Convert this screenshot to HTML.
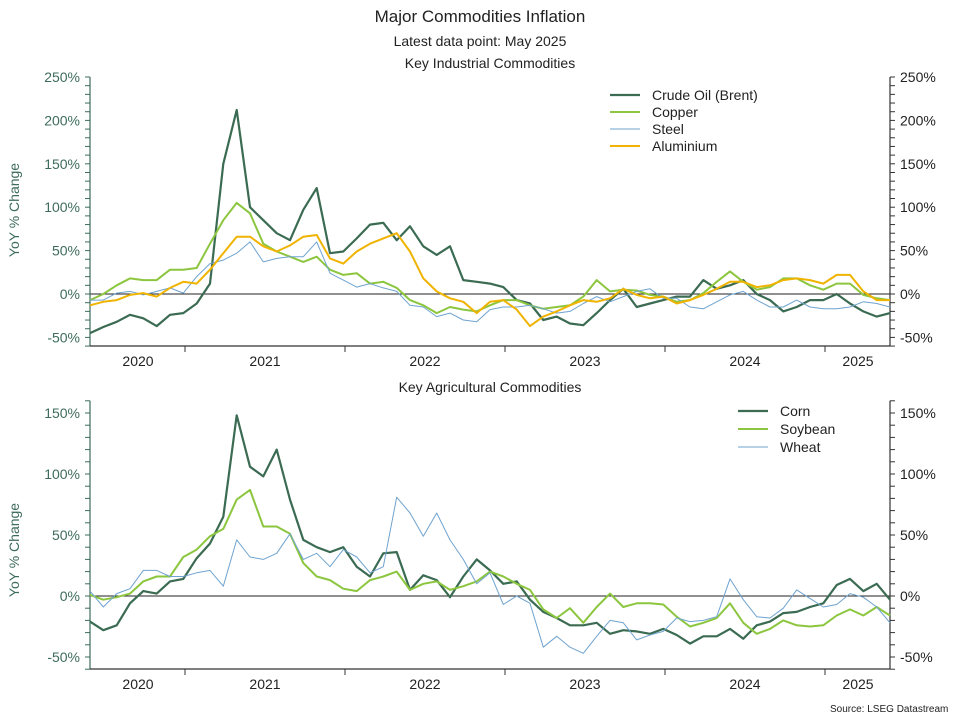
<!DOCTYPE html>
<html><head><meta charset="utf-8"><style>
body{margin:0;background:#fff;font-family:"Liberation Sans",Arial,sans-serif;}
svg text{font-family:"Liberation Sans",Arial,sans-serif;}
</style></head><body>
<svg id="c" width="960" height="720" viewBox="0 0 960 720">
<text x="480" y="22" text-anchor="middle" font-size="17" fill="#222">Major Commodities Inflation</text>
<text x="480" y="46" text-anchor="middle" font-size="14" fill="#222">Latest data point: May 2025</text>
<text x="490" y="68" text-anchor="middle" font-size="14" fill="#222">Key Industrial Commodities</text>
<text x="490" y="392" text-anchor="middle" font-size="14" fill="#222">Key Agricultural Commodities</text>
<text x="660" y="712" font-size="10" fill="#222" text-anchor="start" transform="translate(170,0)">Source: LSEG Datastream</text>
</svg>
<script>
const years=["2020","2021","2022","2023","2024","2025"];
const topTicks=[-50,0,50,100,150,200,250];
const botTicks=[-50,0,50,100,150];
const crude=[-45,-38,-32,-24,-28,-37,-24,-22,-11,12,150,212,100,85,70,62,97,122,47,49,64,80,82,62,78,55,45,55,16,14,12,8,-7,-11,-30,-26,-34,-36,-22,-7,6,-15,-11,-7,-3,-3,16,6,10,16,0,-7,-20,-15,-7,-7,0,-11,-20,-26,-22];
const copper=[-7,0,10,18,16,16,28,28,30,58,85,105,93,58,49,43,37,43,28,22,24,12,14,7,-7,-13,-22,-15,-18,-20,-13,-7,-7,-13,-17,-15,-13,-3,16,3,5,4,-1,-3,-9,-7,1,14,26,14,5,8,18,18,10,5,12,12,-1,-5,-7];
const steel=[-7,-7,1,3,-1,3,7,1,20,35,39,47,60,37,41,43,43,60,24,16,8,12,7,3,-13,-15,-26,-22,-30,-32,-18,-15,-15,-13,-17,-22,-20,-11,-3,-9,-3,3,6,-5,-5,-15,-17,-9,-1,3,-7,-15,-15,-7,-15,-17,-17,-15,-9,-11,-15];
const aluminium=[-13,-9,-7,-1,1,-3,7,14,12,28,47,66,66,55,49,56,66,68,41,35,49,58,64,70,49,18,3,-5,-9,-22,-9,-7,-18,-37,-26,-20,-13,-7,-9,-5,6,-1,-5,-3,-11,-7,-1,6,14,14,8,10,16,18,16,12,22,22,3,-7,-7];
const corn=[-21,-28,-24,-6,4,2,12,14,31,43,65,148,106,98,120,79,46,40,36,40,24,16,35,36,5,17,13,-1,16,30,21,10,12,-3,-13,-18,-24,-24,-22,-31,-28,-29,-31,-27,-32,-39,-33,-33,-27,-35,-24,-21,-14,-13,-9,-6,9,14,4,10,-3];
const soybean=[1,-3,-1,2,12,16,16,32,38,49,55,79,87,57,57,51,27,16,13,6,4,13,16,20,5,10,12,5,8,12,20,16,10,5,-11,-18,-10,-22,-9,2,-9,-6,-6,-7,-17,-25,-22,-18,-6,-22,-31,-27,-20,-24,-25,-24,-16,-11,-16,-9,-16];
const wheat=[4,-9,2,6,21,21,16,16,19,21,8,46,32,30,35,51,30,35,24,38,32,19,24,81,68,49,68,46,30,10,19,-7,0,-6,-42,-33,-42,-47,-33,-20,-22,-36,-32,-29,-18,-21,-20,-17,14,-3,-17,-18,-10,5,-2,-9,-7,2,-1,-9,-22];

const NS="http://www.w3.org/2000/svg";
const svg=document.getElementById('c');
function mk(tag,attrs){const e=document.createElementNS(NS,tag);for(const k in attrs)e.setAttribute(k,attrs[k]);svg.appendChild(e);return e;}
const X0=90,X1=890;
function xMonth(i){return X0+i*(X1-X0)/60;}
function yearX(k){return 25+160*k;}
function panel(p){
  const y=v=>p.zeroY-v*p.ppu;
  // zero line
  let zl=mk('line',{x1:X0,x2:X1,y1:y(0),y2:y(0),stroke:'#222','stroke-width':1});
  
  
  // axes
  let la=mk('line',{x1:X0,x2:X0,y1:y(p.max),y2:p.axisY,stroke:'#3d6b5c','stroke-width':1.2});
  
  
  let ra=mk('line',{x1:X1,x2:X1,y1:y(p.max),y2:p.axisY,stroke:'#333','stroke-width':1.2});
  
  
  let xa=mk('line',{x1:X0,x2:X1,y1:p.axisY,y2:p.axisY,stroke:'#333','stroke-width':1.2});
  
  
  for(let v=p.min;v<=p.max;v+=10){
    let t1=mk('line',{x1:X0-5,x2:X0,y1:y(v),y2:y(v),stroke:'#3d6b5c','stroke-width':1});
    
    
    let t2=mk('line',{x1:X1,x2:X1+5,y1:y(v),y2:y(v),stroke:'#333','stroke-width':1});
    
    
  }
  p.ticks.forEach(v=>{
    let a=mk('text',{x:X0-10,y:y(v)+5,'text-anchor':'end','font-size':14,fill:'#3d6b5c'});a.textContent=v+'%';
    
    
    let b=mk('text',{x:X1+10,y:y(v)+5,'text-anchor':'start','font-size':14,fill:'#222'});b.textContent=v+'%';
    
    
  });
  for(let k=1;k<=5;k++){
    let t=mk('line',{x1:yearX(k),x2:yearX(k),y1:p.axisY,y2:p.axisY+6,stroke:'#333','stroke-width':1});
    
    
  }
  years.forEach((yr,k)=>{
    let cx=k==0?138:(k==5?858:yearX(k)+80);
    let t=mk('text',{x:cx,y:p.axisY+20,'text-anchor':'middle','font-size':14,fill:'#222'});t.textContent=yr;
    
    
  });
  let yt=mk('text',{x:0,y:0,'text-anchor':'middle','font-size':14,fill:'#3d6b5c',transform:'translate(19,'+p.titleY+') rotate(-90)'});
  yt.textContent='YoY % Change';
  
  
  p.series.forEach((s,j)=>{
    const pts=s.data.map((v,i)=>xMonth(i).toFixed(1)+','+y(v).toFixed(1)).join(' ');
    let l=mk('polyline',{points:pts,fill:'none',stroke:s.color,'stroke-width':s.w,'stroke-linejoin':'round'});
    
    
    const ly=p.legY+j*p.legStep;
    let ll=mk('line',{x1:p.legX,x2:p.legX+30,y1:ly,y2:ly,stroke:s.color,'stroke-width':s.w});
    
    
    let lt=mk('text',{x:p.legX+42,y:ly+5,'font-size':14,fill:'#222'});lt.textContent=s.label;
    
    
  });
}
const DG='#3b6b52',LG='#8cc63f',BL='#6fa3cf',YL='#efb300';
panel({name:'top-panel',zeroY:294,ppu:0.868,min:-60,max:250,axisY:346,ticks:topTicks,titleY:210,legX:610,legY:95,legStep:17,
 series:[{key:'crude-oil',label:'Crude Oil (Brent)',data:crude,color:DG,w:2.2},{key:'copper',label:'Copper',data:copper,color:LG,w:2},{key:'steel',label:'Steel',data:steel,color:BL,w:1},{key:'aluminium',label:'Aluminium',data:aluminium,color:YL,w:2}]});
panel({name:'bottom-panel',zeroY:596,ppu:1.22,min:-60,max:160,axisY:669,ticks:botTicks,titleY:550,legX:738,legY:411,legStep:18,
 series:[{key:'corn',label:'Corn',data:corn,color:DG,w:2.2},{key:'soybean',label:'Soybean',data:soybean,color:LG,w:2},{key:'wheat',label:'Wheat',data:wheat,color:BL,w:1}]});
</script>
</body></html>
